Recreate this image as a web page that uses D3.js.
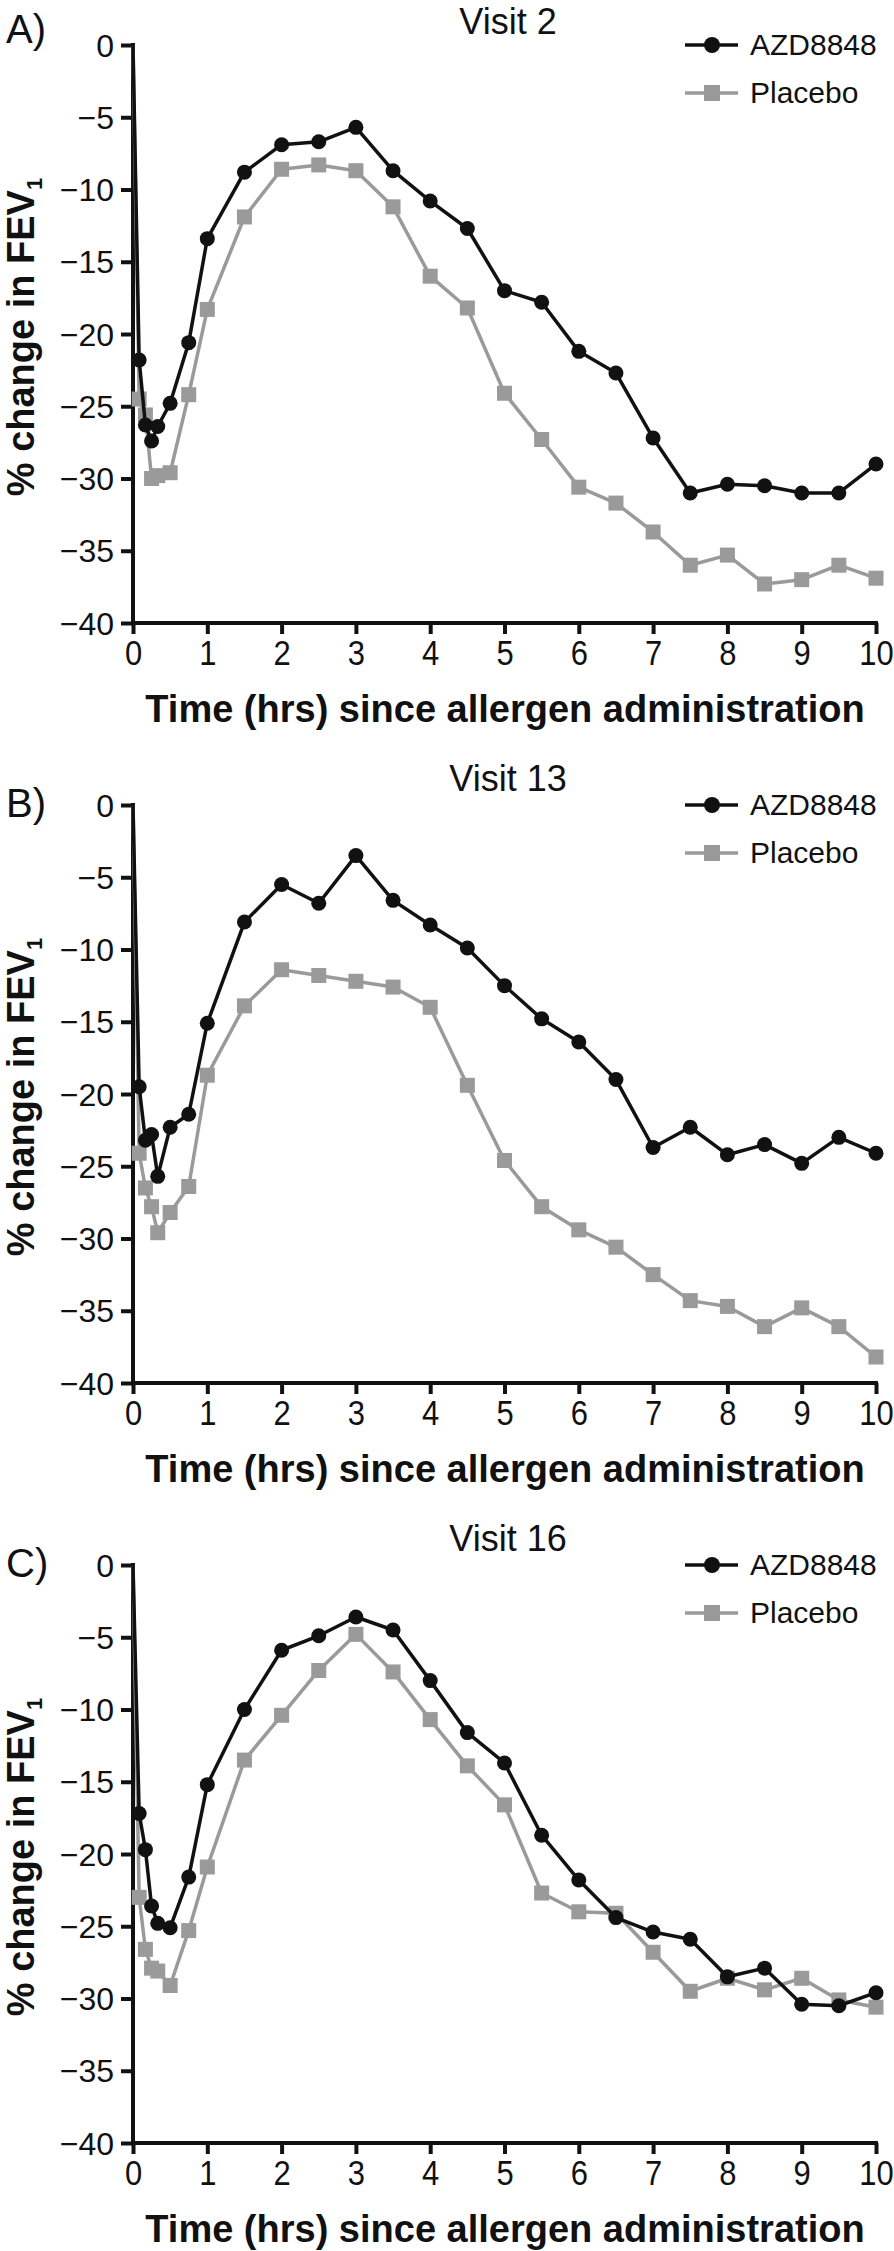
<!DOCTYPE html>
<html>
<head>
<meta charset="utf-8">
<script src="https://cdn.jsdelivr.net/npm/d3@7"></script>
<style>
  html, body { margin: 0; padding: 0; background: #fff; }
  svg { display: block; font-family: "Liberation Sans", Arial, Helvetica, sans-serif; }
</style>
</head>
<body>
<svg id="chart" width="894" height="2251"></svg>
<script>
// ---------- data ----------
const times = [0, 0.083, 0.167, 0.25, 0.333, 0.5, 0.75, 1, 1.5, 2, 2.5, 3, 3.5, 4, 4.5, 5, 5.5, 6, 6.5, 7, 7.5, 8, 8.5, 9, 9.5, 10];

const azdVisit2 = [0, -21.8, -26.3, -27.4, -26.4, -24.8, -20.6, -13.4, -8.8, -6.9, -6.7, -5.7, -8.7, -10.8, -12.7, -17.0, -17.8, -21.2, -22.7, -27.2, -31.0, -30.4, -30.5, -31.0, -31.0, -29.0];
const placeboVisit2 = [0, -24.5, -25.6, -30.0, -29.8, -29.6, -24.2, -18.3, -11.9, -8.6, -8.3, -8.7, -11.2, -16.0, -18.2, -24.1, -27.3, -30.6, -31.7, -33.7, -36.0, -35.3, -37.3, -37.0, -36.0, -36.9];

const azdVisit13 = [0, -19.5, -23.2, -22.8, -25.7, -22.3, -21.4, -15.1, -8.1, -5.5, -6.8, -3.5, -6.6, -8.3, -9.9, -12.5, -14.8, -16.4, -19.0, -23.7, -22.3, -24.2, -23.5, -24.8, -23.0, -24.1];
const placeboVisit13 = [0, -24.1, -26.5, -27.8, -29.6, -28.2, -26.4, -18.7, -13.9, -11.4, -11.8, -12.2, -12.6, -14.0, -19.4, -24.6, -27.8, -29.4, -30.6, -32.5, -34.3, -34.7, -36.1, -34.8, -36.1, -38.2];

const azdVisit16 = [0, -17.2, -19.7, -23.6, -24.8, -25.1, -21.6, -15.2, -10.0, -5.9, -4.9, -3.6, -4.5, -8.0, -11.6, -13.7, -18.7, -21.8, -24.4, -25.4, -25.9, -28.5, -27.9, -30.4, -30.5, -29.6];
const placeboVisit16 = [0, -23.0, -26.6, -27.9, -28.1, -29.1, -25.3, -20.9, -13.5, -10.4, -7.3, -4.8, -7.4, -10.7, -13.9, -16.6, -22.7, -24.0, -24.1, -26.8, -29.5, -28.6, -29.4, -28.6, -30.1, -30.6];

const panelLabels = ["A)", "B)", "C)"];
const panelTitles = ["Visit 2", "Visit 13", "Visit 16"];
const seriesNames = ["AZD8848", "Placebo"];
const xTicks = [0, 1, 2, 3, 4, 5, 6, 7, 8, 9, 10];
const yTicks = [0, -5, -10, -15, -20, -25, -30, -35, -40];
const xTitle = "Time (hrs) since allergen administration";
const yTitleMain = "% change in FEV";
const yTitleSub = "1";

const azdSets = [azdVisit2, azdVisit13, azdVisit16];
const placeboSets = [placeboVisit2, placeboVisit13, placeboVisit16];

// ---------- layout ----------
const plotLeft = 133, plotRight = 876, plotHeight = 578;
const panelTops = [45, 805, 1565];
const panelLabelBaselineOffset = [-2, 12, 12];
const colors = { azd: "#111111", placebo: "#9a9a9a" };

const svg = d3.select("#chart");
const x = d3.scaleLinear().domain([0, 10]).range([plotLeft, plotRight]);
const fmt = d => d < 0 ? "\u2212" + Math.abs(d) : String(d);

panelTops.forEach((top, i) => {
  const y = d3.scaleLinear().domain([-40, 0]).range([top + plotHeight, top]);
  const g = svg.append("g");

  // axes
  const yAxis = d3.axisLeft(y).tickValues(yTicks).tickFormat(fmt).tickSize(12).tickSizeOuter(0).tickPadding(7);
  const gy = g.append("g").attr("transform", `translate(${plotLeft},0)`).call(yAxis);
  gy.selectAll("text").attr("font-size", 32).attr("fill", "#111").attr("dy", "0.35em");

  const xAxis = d3.axisBottom(x).tickValues(xTicks).tickFormat(d => String(d)).tickSize(11).tickSizeOuter(0).tickPadding(6);
  const gx = g.append("g").attr("transform", `translate(0,${top + plotHeight})`).call(xAxis);
  gx.selectAll("text").attr("font-size", 36).attr("fill", "#111").attr("dy", "0.7em")
    .attr("transform", "scale(0.86,1)");

  [gy, gx].forEach(ax => {
    ax.select(".domain").attr("stroke", "#111").attr("stroke-width", 4);
    ax.selectAll(".tick line").attr("stroke", "#111").attr("stroke-width", 4);
  });
  gx.select(".domain").attr("d", `M${plotLeft - 2},0H${plotRight + 2}`);
  gy.select(".domain").attr("d", `M0,${top - 2}V${top + plotHeight + 2}`);

  // series
  const line = d3.line().x(d => x(d[0])).y(d => y(d[1]));
  const series = [
    { vals: placeboSets[i], color: colors.placebo, shape: "square" },
    { vals: azdSets[i], color: colors.azd, shape: "circle" }
  ];
  series.forEach(s => {
    const pts = times.map((t, k) => [t, s.vals[k]]);
    g.append("path").datum(pts).attr("d", line)
      .attr("fill", "none").attr("stroke", s.color).attr("stroke-width", 3.5).attr("stroke-linejoin", "round");
    const mpts = pts.filter(p => p[0] > 0);
    if (s.shape === "circle") {
      g.selectAll(null).data(mpts).enter().append("circle")
        .attr("cx", d => x(d[0])).attr("cy", d => y(d[1])).attr("r", 7.5).attr("fill", s.color);
    } else {
      g.selectAll(null).data(mpts).enter().append("rect")
        .attr("x", d => x(d[0]) - 7.5).attr("y", d => y(d[1]) - 7.5)
        .attr("width", 15).attr("height", 15).attr("fill", s.color);
    }
  });

  // panel label
  g.append("text").attr("x", 6).attr("y", top + panelLabelBaselineOffset[i])
    .attr("font-size", 40).attr("fill", "#111").text(panelLabels[i]);

  // title
  g.append("text").attr("x", 508).attr("y", Math.max(top - 14, 34)).attr("text-anchor", "middle")
    .attr("font-size", 36).attr("fill", "#111").text(panelTitles[i]);

  // legend
  const leg = [
    { name: seriesNames[0], color: colors.azd, shape: "circle", dy: 0 },
    { name: seriesNames[1], color: colors.placebo, shape: "square", dy: 48 }
  ];
  leg.forEach(l => {
    const ly = top + l.dy;
    g.append("line").attr("x1", 685).attr("x2", 738).attr("y1", ly).attr("y2", ly)
      .attr("stroke", l.color).attr("stroke-width", 3.5);
    if (l.shape === "circle") {
      g.append("circle").attr("cx", 712).attr("cy", ly).attr("r", 8).attr("fill", l.color);
    } else {
      g.append("rect").attr("x", 704).attr("y", ly - 8).attr("width", 16).attr("height", 16).attr("fill", l.color);
    }
    g.append("text").attr("x", 750).attr("y", ly + 10).attr("font-size", 30).attr("fill", "#111").text(l.name);
  });

  // x title
  g.append("text").attr("x", 505).attr("y", top + plotHeight + 99).attr("text-anchor", "middle")
    .attr("font-size", 38).attr("font-weight", "bold").attr("fill", "#111").text(xTitle);

  // y title
  const yt = g.append("text")
    .attr("transform", `translate(34,${top + 292}) rotate(-90)`)
    .attr("text-anchor", "middle").attr("font-size", 38).attr("font-weight", "bold").attr("fill", "#111");
  yt.append("tspan").text(yTitleMain);
  yt.append("tspan").attr("font-size", 22).attr("dy", 8).text(yTitleSub);
});
</script>
</body>
</html>
